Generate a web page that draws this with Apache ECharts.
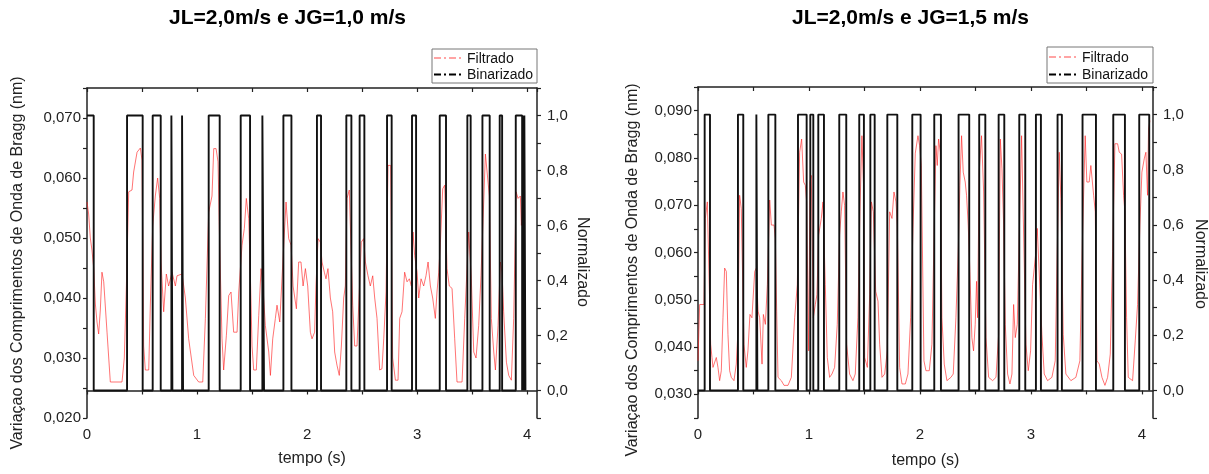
<!DOCTYPE html>
<html><head><meta charset="utf-8">
<script src="https://cdn.jsdelivr.net/npm/echarts@6/dist/echarts.min.js"></script>
<style>html,body{margin:0;padding:0;background:#fff}#c{width:1209px;height:474px}</style>
</head><body><div id="c"></div>
<script>
const titles = ['JL=2,0m/s e JG=1,0 m/s', 'JL=2,0m/s e JG=1,5 m/s'];
const xName = 'tempo (s)';
const yNameLeft = 'Variaçao dos Comprimentos de Onda de Bragg (nm)';
const yNameRight = 'Normalizado';
const seriesNames = ['Filtrado', 'Binarizado'];

// Chart A (JG=1,0) - filtered signal
const filtTimeA = [0,0.015,0.030,0.045,0.061,0.076,0.091,0.106,0.121,0.136,0.152,0.182,0.212,0.318,0.339,0.358,0.379,0.409,0.424,0.455,0.485,0.500,0.515,0.530,0.561,0.576,0.597,0.621,0.642,0.661,0.673,0.697,0.721,0.742,0.773,0.803,0.818,0.864,0.894,0.924,0.970,1.015,1.052,1.076,1.106,1.136,1.152,1.173,1.191,1.206,1.227,1.242,1.267,1.288,1.309,1.333,1.364,1.379,1.409,1.430,1.448,1.470,1.485,1.500,1.515,1.539,1.561,1.582,1.600,1.621,1.652,1.667,1.688,1.712,1.727,1.752,1.767,1.788,1.809,1.833,1.855,1.873,1.903,1.924,1.945,1.964,1.985,2.006,2.030,2.045,
2.069,2.081,2.100,2.121,2.136,2.157,2.172,2.190,2.212,2.233,2.251,2.272,2.293,2.312,2.333,2.348,2.363,2.384,2.400,2.415,2.433,2.454,2.475,2.493,2.515,2.530,2.554,2.575,2.597,2.615,2.636,2.660,2.681,2.697,2.718,2.736,2.760,2.778,2.803,2.827,2.842,2.863,2.887,2.909,2.930,2.948,2.963,2.978,3.000,3.015,3.036,3.060,3.081,3.100,3.121,3.142,3.166,3.181,3.197,3.212,3.233,3.251,3.272,3.293,3.318,3.342,3.363,3.409,3.433,3.454,3.469,3.493,3.515,3.536,3.560,3.581,3.600,3.621,3.639,3.657,3.675,3.697,3.712,3.736,3.757,3.772,3.787,3.812,3.833,3.857,3.878,3.900,3.918,3.939,3.948,3.960,3.975];
const filtValA = [0.056,0.054,0.050,0.048,0.045,0.039,0.036,0.034,0.038,0.0443,0.0427,0.0343,0.026,0.026,0.030,0.042,0.0577,0.058,0.061,0.0643,0.065,0.063,0.032,0.028,0.028,0.039,0.052,0.057,0.060,0.0566,0.046,0.0377,0.044,0.042,0.0443,0.042,0.0437,0.044,0.040,0.0332,0.0271,0.026,0.026,0.0366,0.0543,0.057,0.0649,0.0649,0.0627,0.0488,0.0332,0.028,0.0338,0.0404,0.041,0.0343,0.0343,0.041,0.0488,0.0516,0.0566,0.0532,0.0437,0.032,0.028,0.028,0.0371,0.0449,0.0416,0.0354,0.031,0.0271,0.0332,0.0366,0.0388,0.036,0.036,0.0488,0.056,0.0499,0.0488,0.042,0.0382,0.046,0.046,0.042,0.0449,0.042,0.0343,0.0332,
0.0343,0.042,0.0499,0.0493,0.046,0.0443,0.0432,0.0449,0.040,0.0377,0.031,0.0288,0.0271,0.032,0.040,0.042,0.0566,0.058,0.0577,0.0388,0.032,0.032,0.041,0.0493,0.0499,0.046,0.0437,0.042,0.0437,0.040,0.0366,0.028,0.0282,0.0332,0.041,0.0621,0.0621,0.030,0.0263,0.0263,0.0366,0.0377,0.0443,0.0427,0.0432,0.042,0.051,0.0471,0.0443,0.040,0.0432,0.042,0.0437,0.046,0.042,0.040,0.0366,0.041,0.0443,0.0493,0.0582,0.0588,0.0449,0.042,0.0416,0.0332,0.026,0.026,0.0366,0.0449,0.051,0.0432,0.031,0.030,0.0354,0.0437,0.0532,0.064,0.0638,0.057,0.0366,0.031,0.028,0.0354,0.046,0.0443,0.0377,0.0293,0.0271,0.0263,0.0366,0.0577,0.0566,0.057,0.0521,0.0566,0.051];
// Chart A - binarized: intervals where state = 1
const binHighStartA = [0,0.364,0.597,0.767,0.864,1.106,1.397,1.594,1.785,2.090,2.357,2.478,2.727,2.954,3.206,3.457,3.594,3.751,3.897,3.962,3.975];
const binHighEndA   = [0.061,0.506,0.670,0.776,0.873,1.206,1.482,1.609,1.858,2.127,2.403,2.521,2.769,2.991,3.263,3.487,3.660,3.773,3.955,3.968,3.985];

// Chart B (JG=1,5) - filtered signal
const filtTimeB = [0.000,0.015,0.054,0.066,0.084,0.099,0.114,0.126,0.135,0.165,0.180,0.195,0.210,0.225,0.240,0.255,0.270,0.285,0.300,0.324,0.345,0.360,0.375,0.390,0.414,0.435,0.450,0.468,0.486,0.511,0.526,0.541,0.556,0.577,0.589,0.607,0.625,0.646,0.661,0.685,0.697,0.709,0.721,0.751,0.775,0.811,0.841,0.871,0.895,0.916,0.934,0.952,0.967,0.979,0.997,1.009,1.021,1.039,1.057,1.072,1.087,1.111,1.126,1.147,1.165,1.186,1.207,1.231,1.255,1.276,1.291,1.306,1.321,1.339,1.366,1.396,1.417,1.441,1.459,1.477,1.492,1.502,1.526,1.547,1.562,1.580,1.601,1.622,1.637,1.658,1.682,1.706,1.727,1.748,1.766,1.784,1.796,1.817,1.838,1.868,1.892,1.916,1.937,1.958,1.982,1.997,2.012,2.036,2.054,
2.084,2.108,2.129,2.144,2.156,2.168,2.183,2.198,2.219,2.243,2.279,2.300,2.324,2.345,2.360,2.375,2.390,2.408,2.420,2.435,2.450,2.468,2.483,2.498,2.510,2.519,2.534,2.555,2.574,2.595,2.619,2.655,2.685,2.709,2.724,2.739,2.754,2.769,2.790,2.811,2.829,2.844,2.859,2.877,2.895,2.916,2.934,2.955,2.976,2.997,3.015,3.030,3.045,3.057,3.075,3.099,3.120,3.150,3.189,3.219,3.240,3.255,3.270,3.291,3.315,3.360,3.405,3.441,3.465,3.489,3.504,3.525,3.540,3.565,3.580,3.595,3.616,3.640,3.667,3.691,3.715,3.736,3.757,3.781,3.796,3.817,3.835,3.847,3.862,3.877,3.916,3.940,3.961,3.982,4.000,4.021,4.036,4.051,4.060,4.072];
const filtValB = [0.0371,0.049,0.049,0.0672,0.0707,0.0711,0.0406,0.0378,0.0357,0.0378,0.0357,0.0329,0.035,0.0462,0.0567,0.056,0.0427,0.035,0.0336,0.0329,0.0364,0.0434,0.0721,0.0693,0.0406,0.0357,0.0392,0.0469,0.0462,0.056,0.0567,0.0476,0.0462,0.0364,0.0469,0.0448,0.0532,0.0711,0.0658,0.0658,0.063,0.0476,0.0336,0.0329,0.0319,0.0319,0.0336,0.0462,0.0532,0.0812,0.084,0.0749,0.0742,0.0707,0.0392,0.0749,0.0763,0.0462,0.049,0.0511,0.0637,0.0672,0.0707,0.0532,0.0378,0.0336,0.0343,0.0357,0.0448,0.0637,0.0686,0.0728,0.070,0.0406,0.0343,0.0329,0.0343,0.0462,0.0686,0.0847,0.0742,0.0378,0.0357,0.0511,0.0707,0.0686,0.0518,0.0497,0.0406,0.0336,0.0343,0.0392,0.0686,0.0672,0.0728,0.0707,0.0658,0.0357,0.0322,0.0322,0.0343,0.0462,0.0651,0.081,0.0847,0.0826,0.0784,0.0371,0.035,
0.035,0.0406,0.0658,0.0826,0.0784,0.084,0.0812,0.0462,0.0364,0.0329,0.0336,0.0343,0.0462,0.0602,0.0742,0.0847,0.077,0.0749,0.0721,0.0658,0.056,0.042,0.0392,0.0448,0.0539,0.0462,0.077,0.0847,0.0728,0.042,0.0336,0.0329,0.0336,0.0427,0.084,0.0777,0.0658,0.0448,0.0343,0.0322,0.0343,0.049,0.042,0.0448,0.0637,0.0847,0.0851,0.0406,0.035,0.0392,0.0532,0.0567,0.0602,0.0651,0.0651,0.0427,0.0343,0.0329,0.0336,0.0371,0.0637,0.0812,0.0714,0.0427,0.0343,0.0329,0.0336,0.0371,0.0637,0.0847,0.0749,0.0749,0.0784,0.0721,0.0686,0.0371,0.0364,0.0336,0.0319,0.0336,0.0385,0.0602,0.083,0.083,0.0812,0.0808,0.0721,0.0686,0.0462,0.0336,0.0329,0.0413,0.049,0.0658,0.077,0.0798,0.0812,0.0721,0.0861,0.0879];
const binHighStartB = [0.060,0.360,0.526,0.634,0.901,1.012,1.084,1.273,1.453,1.553,1.706,1.931,2.129,2.348,2.534,2.709,2.895,3.045,3.240,3.465,3.742,3.976];
const binHighEndB   = [0.108,0.408,0.535,0.697,0.979,1.039,1.135,1.336,1.495,1.592,1.796,2.006,2.189,2.444,2.589,2.760,2.949,3.090,3.279,3.586,3.847,4.066];

function zip(ts, vs) {
  const n = Math.min(ts.length, vs.length), out = [];
  for (let i = 0; i < n; i++) out.push([ts[i], vs[i]]);
  return out;
}
function binSeries(starts, ends) {
  const pts = [];
  if (starts[0] > 0) pts.push([0, 0]);
  for (let i = 0; i < starts.length; i++) {
    if (starts[i] === 0) pts.push([0, 1]); else { pts.push([starts[i], 0]); pts.push([starts[i], 1]); }
    pts.push([ends[i], 1]); pts.push([ends[i], 0]);
    if (i + 1 < starts.length) pts.push([starts[i + 1], 0]);
  }
  return pts;
}

const FONT = "'Liberation Sans', Arial, sans-serif";
const AX = '#222';
const RED = 'rgba(255,30,30,0.62)';
const DASHDOT = [7, 3, 2, 3];
const fmtX = v => { const k = Math.round(v * 1000); return k % 1000 === 0 ? String(k / 1000) : ''; };
const fmtL = (maxK) => v => { const k = Math.round(v * 1000); return (k % 10 === 0 && k <= maxK) ? (k / 1000).toFixed(3).replace('.', ',') : ''; };
const fmtR = v => { const k = Math.round(v * 10); return (k < 0 || k > 10 || k % 2) ? '' : (k / 10).toFixed(1).replace('.', ','); };

function xAxes(grid, max, gap) {
  return [
    { gridIndex: grid, type: 'value', min: 0, max: max, interval: 0.5, position: 'bottom',
      name: xName, nameLocation: 'middle', nameGap: gap,
      nameTextStyle: { fontFamily: FONT, fontSize: 16, color: '#222' },
      axisLine: { show: true, lineStyle: { color: AX, width: 1.5 } },
      axisTick: { show: true, length: 4, lineStyle: { color: AX, width: 1.2 } },
      axisLabel: { formatter: fmtX, fontFamily: FONT, fontSize: 15, color: '#222', margin: 9, showMaxLabel: false },
      splitLine: { show: false } },
    { gridIndex: grid, type: 'value', min: 0, max: max, interval: 0.5, position: 'top',
      axisLine: { show: true, onZero: false, lineStyle: { color: AX, width: 1.5 } },
      axisTick: { show: true, inside: true, length: 4, lineStyle: { color: AX, width: 1.2 } },
      axisLabel: { show: false }, splitLine: { show: false } }
  ];
}
function yAxes(grid, min, max, maxK) {
  return [
    { gridIndex: grid, type: 'value', min: min, max: max, interval: 0.005, position: 'left',
      axisLine: { show: true, onZero: false, lineStyle: { color: AX, width: 1.5 } },
      axisTick: { show: true, length: 4, lineStyle: { color: AX, width: 1.2 } },
      axisLabel: { formatter: fmtL(maxK), fontFamily: FONT, fontSize: 15, color: '#222', margin: 6 },
      splitLine: { show: false } },
    { gridIndex: grid, type: 'value', min: -0.1, max: 1.1, interval: 0.1, position: 'right',
      axisLine: { show: true, onZero: false, lineStyle: { color: AX, width: 1.5 } },
      axisTick: { show: true, length: 4, lineStyle: { color: AX, width: 1.2 } },
      axisLabel: { formatter: fmtR, fontFamily: FONT, fontSize: 15, color: '#222', margin: 10 },
      splitLine: { show: false } }
  ];
}
function legendGraphic(x, y, w, h, row1, row2, lineW) {
  const txtX = x + lineW + 6;
  return { type: 'group', silent: true, children: [
    { type: 'rect', shape: { x: x, y: y, width: w, height: h },
      style: { fill: '#fff', stroke: '#777', lineWidth: 1 } },
    { type: 'line', shape: { x1: x + 2, y1: row1, x2: x + 2 + lineW, y2: row1 },
      style: { stroke: '#ff4a4a', lineWidth: 1.2, lineDash: DASHDOT } },
    { type: 'text', x: txtX, y: row1 + 1,
      style: { text: seriesNames[0], font: '14px ' + FONT, fill: '#111', textVerticalAlign: 'middle' } },
    { type: 'line', shape: { x1: x + 2, y1: row2, x2: x + 2 + lineW, y2: row2 },
      style: { stroke: '#000', lineWidth: 1.8, lineDash: DASHDOT } },
    { type: 'text', x: txtX, y: row2 + 1,
      style: { text: seriesNames[1], font: '14px ' + FONT, fill: '#111', textVerticalAlign: 'middle' } }
  ] };
}
function filtSeries(x, y, data) {
  return { name: seriesNames[0], type: 'line', xAxisIndex: x, yAxisIndex: y, data: data,
    symbol: 'none', silent: true, animation: false, z: 2,
    lineStyle: { color: RED, width: 1 } };
}
function binSer(x, y, data) {
  return { name: seriesNames[1], type: 'line', xAxisIndex: x, yAxisIndex: y, data: data,
    symbol: 'none', silent: true, animation: false, z: 3,
    lineStyle: { color: '#111', width: 1.9 } };
}

const chart = echarts.init(document.getElementById('c'), null, { renderer: 'canvas' });
chart.setOption({
  backgroundColor: '#fff',
  animation: false,
  title: [
    { text: titles[0], left: 169, top: 8, padding: 0, textStyle: { fontFamily: FONT, fontSize: 21, fontWeight: 'bold', color: '#000' } },
    { text: titles[1], left: 792, top: 8, padding: 0, textStyle: { fontFamily: FONT, fontSize: 21, fontWeight: 'bold', color: '#000' } }
  ],
  grid: [
    { left: 87, top: 88, width: 450, height: 330, containLabel: false },
    { left: 698, top: 87, width: 455, height: 333, containLabel: false }
  ],
  xAxis: [...xAxes(0, 4.09, 33), ...xAxes(1, 4.1, 35)],
  yAxis: [...yAxes(0, 0.02, 0.075, 70), ...yAxes(1, 0.025, 0.095, 90)],
  series: [
    filtSeries(0, 0, zip(filtTimeA, filtValA)),
    binSer(0, 1, binSeries(binHighStartA, binHighEndA)),
    filtSeries(2, 2, zip(filtTimeB, filtValB)),
    binSer(2, 3, binSeries(binHighStartB, binHighEndB))
  ],
  graphic: [
    { type: 'text', x: 18, y: 263, rotation: Math.PI / 2, silent: true,
      style: { text: yNameLeft, font: '16px ' + FONT, fill: '#222', textAlign: 'center', textVerticalAlign: 'middle' } },
    { type: 'text', x: 582, y: 262, rotation: -Math.PI / 2, silent: true,
      style: { text: yNameRight, font: '16px ' + FONT, fill: '#222', textAlign: 'center', textVerticalAlign: 'middle' } },
    { type: 'text', x: 633, y: 270, rotation: Math.PI / 2, silent: true,
      style: { text: yNameLeft, font: '16px ' + FONT, fill: '#222', textAlign: 'center', textVerticalAlign: 'middle' } },
    { type: 'text', x: 1200, y: 264, rotation: -Math.PI / 2, silent: true,
      style: { text: yNameRight, font: '16px ' + FONT, fill: '#222', textAlign: 'center', textVerticalAlign: 'middle' } },
    legendGraphic(432, 49, 105, 34, 58, 74.5, 29),
    legendGraphic(1047, 47, 106, 36, 57, 74.5, 29)
  ]
});
</script>
</body></html>
